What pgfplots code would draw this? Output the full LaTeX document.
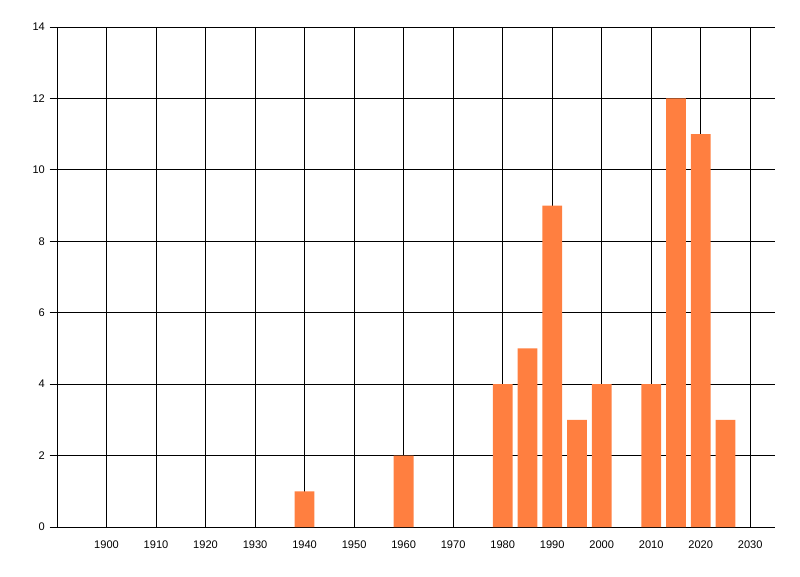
\documentclass[border=0pt]{standalone}
\usepackage{pgfplots}
\pgfplotsset{compat=1.18}
\usepackage{fontspec}
\setmainfont{Liberation Sans}
\definecolor{barc}{RGB}{255,127,64}
\begin{document}
\begin{tikzpicture}
\begin{axis}[
  at={(42.75pt,36.75pt)}, anchor=south west,
  scale only axis, width=538.5pt, height=375pt,
  xmin=1890, xmax=2035, ymin=0, ymax=14,
  xtick={1900,1910,...,2030}, ytick={0,2,...,14},
  axis x line*=bottom, axis y line*=left,
  axis line style={black, line width=0.75pt, -},
  grid=major, major grid style={black, line width=0.75pt},
  tick align=outside, major tick length=5.6pt,
  xtick style={draw=none}, ytick style={black, line width=0.75pt},
  xticklabel style={yshift=-1pt},
  ticklabel style={font=\fontsize{8.3}{10}\selectfont},
  /pgf/number format/assume math mode=true,
  /pgf/number format/1000 sep={},
  clip=false,
]
\addplot[ybar, bar width=4, bar shift=0pt, fill=barc, draw=none] coordinates {
(1940,1) (1960,2) (1980,4) (1985,5) (1990,9) (1995,3) (2000,4) (2010,4) (2015,12) (2020,11) (2025,3)
};
\end{axis}
\pgfresetboundingbox
\path[use as bounding box] (0,0) rectangle (600pt,432pt);
\end{tikzpicture}
\end{document}
